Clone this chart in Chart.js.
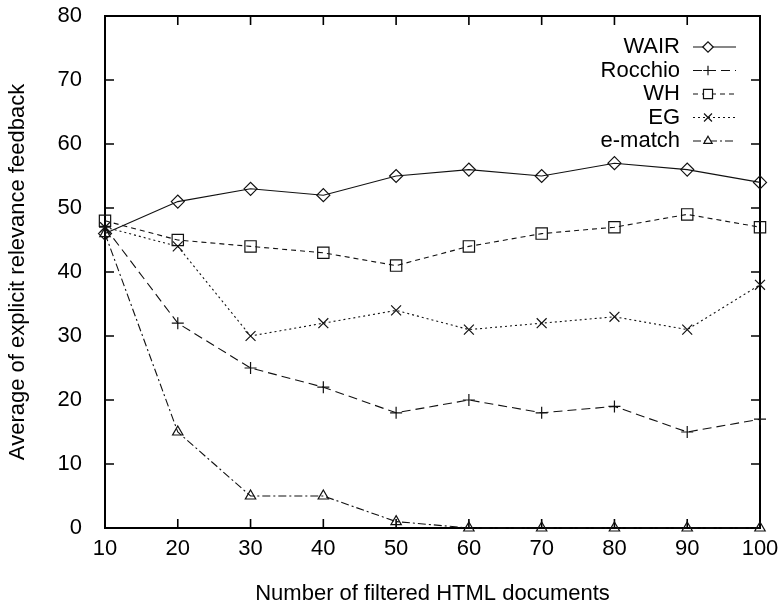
<!DOCTYPE html>
<html>
<head>
<meta charset="utf-8">
<script src="https://cdn.jsdelivr.net/npm/chart.js@4.4.1/dist/chart.umd.min.js"></script>
<style>
  html, body { margin: 0; padding: 0; background: #fff; }
  #wrap { width: 782px; height: 607px; }
</style>
</head>
<body>
<div id="wrap"><canvas id="chart" width="782" height="607"></canvas></div>
<script>
// values
const docs = [10, 20, 30, 40, 50, 60, 70, 80, 90, 100];
const wair = [46, 51, 53, 52, 55, 56, 55, 57, 56, 54];
const rocchio = [47, 32, 25, 22, 18, 20, 18, 19, 15, 17];
const wh = [48, 45, 44, 43, 41, 44, 46, 47, 49, 47];
const eg = [47, 44, 30, 32, 34, 31, 32, 33, 31, 38];
const ematch = [46, 15, 5, 5, 1, 0, 0, 0, 0, 0];
const seriesNames = ['WAIR', 'Rocchio', 'WH', 'EG', 'e-match'];
const xTicks = [10, 20, 30, 40, 50, 60, 70, 80, 90, 100];
const yTicks = [0, 10, 20, 30, 40, 50, 60, 70, 80];

const FONT = '"Liberation Sans", Arial, Helvetica, sans-serif';
const FS = 22;

function points(vals) {
    return docs.map((d, i) => ({x: d, y: vals[i]}));
}

const styles = [
    {dash: [], point: 'rectRot', r: 6.5},
    {dash: [9, 5], point: 'cross', r: 6},
    {dash: [5, 4], point: 'rect', r: 8},
    {dash: [2, 3], point: 'crossRot', r: 7},
    {dash: [8, 3, 2, 3], point: 'triangle', r: 6}
];

const allVals = [wair, rocchio, wh, eg, ematch];

const datasets = allVals.map((vals, i) => ({
    label: seriesNames[i],
    data: points(vals),
    clip: false,
    borderColor: '#111',
    borderWidth: 1.1,
    borderDash: styles[i].dash,
    pointStyle: styles[i].point,
    pointRadius: styles[i].r,
    pointBorderColor: '#111',
    pointBackgroundColor: 'rgba(255,255,255,0)',
    pointBorderWidth: 1.2,
    tension: 0
}));

// frame, inward ticks on all sides, and gnuplot style key
const framePlugin = {
    id: 'frame',
    beforeDatasetsDraw(chart) {
        const ctx = chart.ctx;
        const a = chart.chartArea;
        const xs = chart.scales.x, ys = chart.scales.y;
        ctx.save();
        ctx.strokeStyle = '#000';
        ctx.lineWidth = 2;
        ctx.setLineDash([]);
        ctx.strokeRect(a.left, a.top, a.right - a.left, a.bottom - a.top);
        ctx.lineWidth = 1.6;
        const tl = 9;
        ctx.beginPath();
        xTicks.forEach(v => {
            const px = xs.getPixelForValue(v);
            ctx.moveTo(px, a.bottom); ctx.lineTo(px, a.bottom - tl);
            ctx.moveTo(px, a.top); ctx.lineTo(px, a.top + tl);
        });
        yTicks.forEach(v => {
            const py = ys.getPixelForValue(v);
            ctx.moveTo(a.left, py); ctx.lineTo(a.left + tl, py);
            ctx.moveTo(a.right, py); ctx.lineTo(a.right - tl, py);
        });
        ctx.stroke();
        ctx.restore();
    },
    afterDraw(chart) {
        const ctx = chart.ctx;
        ctx.save();
        // key
        ctx.font = FS + 'px ' + FONT;
        ctx.textAlign = 'right';
        ctx.textBaseline = 'middle';
        const textRight = 680, lineL = 693, lineR = 736, mark = 708;
        chart.data.datasets.forEach((ds, i) => {
            const y = 47 + i * 23.5;
            ctx.fillStyle = '#000';
            ctx.fillText(ds.label, textRight, y);
            ctx.strokeStyle = '#111';
            ctx.lineWidth = 1.1;
            ctx.setLineDash(ds.borderDash);
            ctx.beginPath();
            ctx.moveTo(lineL, y); ctx.lineTo(lineR, y);
            ctx.stroke();
            ctx.setLineDash([]);
            ctx.lineWidth = 1.2;
            ctx.fillStyle = '#fff';
            Chart.helpers.drawPoint(ctx, {pointStyle: ds.pointStyle, radius: ds.pointRadius * 0.8, borderWidth: 1.2}, mark, y);
        });
        ctx.restore();
    }
};

new Chart(document.getElementById('chart'), {
    type: 'line',
    data: {datasets: datasets},
    options: {
        responsive: false,
        animation: false,
        layout: {padding: {left: 0, right: 22, top: 16, bottom: 0}},
        plugins: {legend: {display: false}, tooltip: {enabled: false}},
        scales: {
            x: {
                type: 'linear',
                min: 10, max: 100,
                grid: {display: false, drawTicks: false},
                border: {display: false},
                ticks: {stepSize: 10, color: '#000', padding: 8, font: {size: FS, family: FONT}},
                title: {display: true, text: 'Number of filtered HTML documents', color: '#000',
                        font: {size: FS, family: FONT}, padding: {top: 0, bottom: 0}},
                afterFit(s) { s.height = 79; s.paddingLeft = 0; s.paddingRight = 0; }
            },
            y: {
                min: 0, max: 80,
                grid: {display: false, drawTicks: false},
                border: {display: false},
                ticks: {stepSize: 10, color: '#000', padding: 23, font: {size: FS, family: FONT}},
                title: {display: true, text: 'Average of explicit relevance feedback', color: '#000',
                        font: {size: FS, family: FONT}, padding: {top: 5, bottom: 0}},
                afterFit(s) { s.width = 105; s.paddingTop = 0; s.paddingBottom = 0; }
            }
        }
    },
    plugins: [framePlugin]
});
</script>
</body>
</html>
